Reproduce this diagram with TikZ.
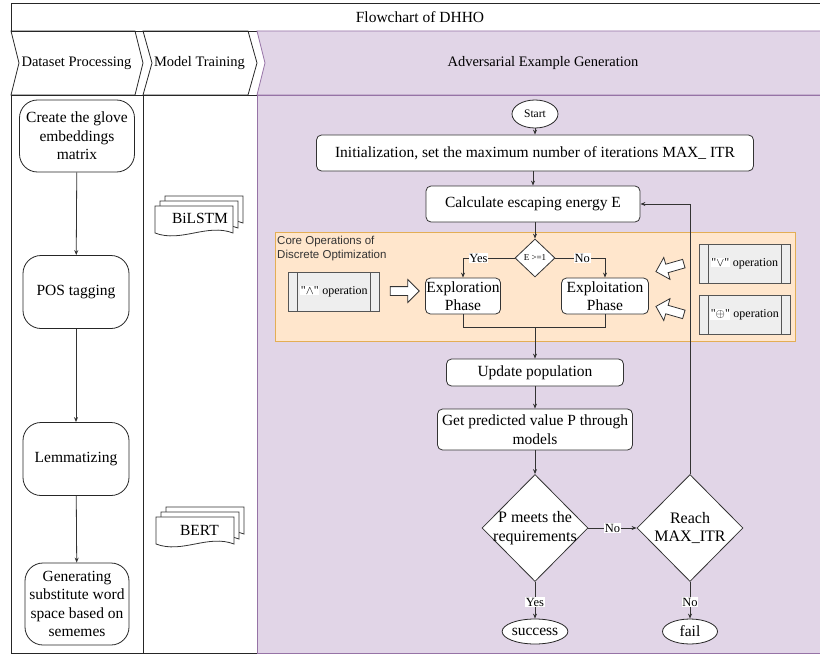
\documentclass[tikz,border=0pt]{standalone}
\usepackage{fontspec}
\setmainfont{Liberation Serif}
\newfontfamily\coresans{Liberation Sans}
\usetikzlibrary{arrows.meta,shapes.geometric,shapes.arrows,calc}
\definecolor{lanepurple}{HTML}{E1D5E7}
\definecolor{lanepurpleline}{HTML}{9673A6}
\definecolor{coreorange}{HTML}{FFE6CC}
\definecolor{coreorangeline}{HTML}{E3AE55}
\definecolor{opgray}{HTML}{EEEEEE}
\definecolor{opgrayline}{HTML}{555555}
\newcommand{\opsym}[1]{{\setlength{\fboxsep}{0.6bp}\colorbox{white}{\textquotedbl$#1$\textquotedbl}}}
\tikzset{
  prepbox/.style={draw=black!85, line width=0.8bp, rounded corners=18bp, fill=white, align=center, inner sep=1bp, font=\fontsize{15.5bp}{18.5bp}\selectfont},
  procnode/.style={draw=black!80, line width=0.8bp, rounded corners=5bp, fill=white, align=center, inner sep=1bp, minimum height=36bp, font=\fontsize{15.5bp}{18.5bp}\selectfont},
  decision/.style={diamond, draw=black!80, line width=0.8bp, fill=white, inner sep=0bp},
  terminal/.style={ellipse, draw=black!85, line width=0.8bp, fill=white, inner sep=0bp},
  opbox/.style={draw=opgrayline, line width=0.8bp, fill=opgray, minimum width=91bp, minimum height=39bp, font=\fontsize{12bp}{14bp}\selectfont,
    path picture={\draw[opgrayline, line width=0.8bp] ([xshift=9bp]path picture bounding box.north west) -- ([xshift=9bp]path picture bounding box.south west)
      ([xshift=-9bp]path picture bounding box.north east) -- ([xshift=-9bp]path picture bounding box.south east);}},
  flow/.style={draw=black!80, line width=0.8bp, -{Stealth[length=5bp,width=4bp]}},
  joinline/.style={draw=black!80, line width=0.8bp},
  branchlabel/.style={fill=white, inner sep=0.8bp, font=\fontsize{12.5bp}{14bp}\selectfont},
  hollowarrow/.style={single arrow, draw=black!80, fill=white, line width=0.8bp, inner sep=4bp, single arrow head extend=7bp, minimum height=29bp},
  lanehead/.style={font=\fontsize{14.5bp}{17bp}\selectfont},
  pics/modeldoc/.style={code={
    \foreach \s in {10,5,0}
      \draw[draw=black!80, fill=white, line width=0.8bp] (\s,-\s) -- ++(78,0) -- ++(0,27) .. controls +(-26,-10) and +(26,10) .. ++(-78,0) -- cycle;
  }}
}
\begin{document}
\begin{tikzpicture}[x=1bp,y=-1bp]
\useasboundingbox (0,0) rectangle (820,660);
% lanes
\fill[white] (0,0) rectangle (820,660);
\draw[black!85, line width=0.8bp] (11,3) rectangle (830,31);
\node[font=\fontsize{15.5bp}{18bp}\selectfont] (title) at (420,17) {Flowchart of DHHO};
\draw[black!85, line width=0.8bp] (11,31) -- (135,31) -- (143,63) -- (135,95) -- (11,95) -- (19,63) -- cycle;
\draw[black!85, line width=0.8bp] (143,31) -- (248,31) -- (257,63) -- (248,95) -- (143,95) -- (152,63) -- cycle;
\draw[lanepurpleline, fill=lanepurple, line width=0.8bp] (257,31) -- (830,31) -- (830,95) -- (257,95) -- (265,63) -- cycle;
\node[lanehead] (dphead) at (76.5,63) {Dataset Processing};
\node[lanehead] (mthead) at (199.5,63) {Model Training};
\node[lanehead] (aehead) at (543,63) {Adversarial Example Generation};
\draw[black!85, line width=0.8bp] (11,95) rectangle (143,653);
\draw[black!85, line width=0.8bp] (143,95) rectangle (257,653);
\draw[lanepurpleline, fill=lanepurple, line width=0.8bp] (257,95) rectangle (830,653);

% dataset processing
\node[prepbox, minimum width=115bp, minimum height=72bp] (glove) at (77,136) {Create the glove\\embeddings\\matrix};
\node[prepbox, minimum width=106bp, minimum height=73bp] (pos) at (76,292) {POS tagging};
\node[prepbox, minimum width=106bp, minimum height=73bp] (lemma) at (76,459) {Lemmatizing};
\node[prepbox, minimum width=104bp, minimum height=82bp] (subst) at (77,604) {Generating\\substitute word\\space based on\\sememes};
\draw[flow] (glove) -- (pos);
\draw[flow] (pos) -- (lemma);
\draw[flow] (lemma) -- (subst);

% model training
\pic (bilstmdoc) at (155,206) {modeldoc};
\node[font=\fontsize{15.5bp}{18bp}\selectfont] (bilstm) at (200,218) {BiLSTM};
\pic (bertdoc) at (156,517) {modeldoc};
\node[font=\fontsize{15.5bp}{18bp}\selectfont] (bert) at (199.5,530) {BERT};

% core operations
\draw[coreorangeline, fill=coreorange, line width=0.9bp] (275,232) rectangle (795,341);
\node[anchor=north west, align=left, inner sep=0bp, font=\coresans\fontsize{11.5bp}{14bp}\selectfont, text=black!80] (coretitle) at (277,236) {Core Operations of\\Discrete Optimization};

\node[terminal, minimum width=46bp, minimum height=28bp, font=\fontsize{11.5bp}{13bp}\selectfont] (start) at (535,114) {Start};
\node[procnode, minimum width=437bp] (init) at (535,153) {Initialization, set the maximum number of iterations MAX\_ ITR};
\node[procnode, minimum width=214bp] (calc) at (533,204) {Calculate escaping energy E};
\node[decision, minimum width=40bp, minimum height=38bp, font=\fontsize{9bp}{10bp}\selectfont] (energy) at (535,258) {E >=1};
\node[procnode, minimum width=75bp] (explore) at (463,296) {Exploration\\Phase};
\node[procnode, minimum width=87bp] (exploit) at (605,296) {Exploitation\\Phase};
\node[opbox] (andop) at (334,291.5) {\opsym{\wedge} operation};
\node[opbox] (orop) at (744.5,263.5) {\opsym{\vee} operation};
\node[opbox] (xorop) at (744.5,315) {\opsym{\oplus} operation};
\node[hollowarrow] (andarrow) at (402.5,291) {};
\node[hollowarrow, rotate=196] (orarrow) at (672,267) {};
\node[hollowarrow, rotate=164] (xorarrow) at (672,311) {};

\node[procnode, minimum width=177bp, minimum height=27bp] (update) at (535,372.5) {Update population};
\node[procnode, minimum width=195bp, minimum height=41bp] (predict) at (535,429.5) {Get predicted value P through\\models};
\node[decision, minimum width=106bp, minimum height=107bp, label={[align=center, font=\fontsize{16bp}{18.5bp}\selectfont]center:P meets the\\requirements}] (meets) at (535,528) {};
\node[decision, minimum width=106bp, minimum height=107bp, label={[align=center, font=\fontsize{16bp}{18.5bp}\selectfont]center:Reach\\MAX\_ITR}] (reach) at (690,528) {};
\node[terminal, minimum width=55bp, minimum height=25bp, font=\fontsize{15.5bp}{18bp}\selectfont] (success) at (535,631.5) {success};
\node[terminal, minimum width=55bp, minimum height=25bp, font=\fontsize{15.5bp}{18bp}\selectfont] (fail) at (690,631.5) {fail};
\coordinate (merge) at (535,327);

\draw[flow] (start) -- (init);
\draw[flow] (init.south -| calc.north) -- (calc.north);
\draw[flow] (calc.south -| energy.north) -- (energy.north);
\draw[flow] (energy.west) -| node[branchlabel, pos=0.35] {Yes} (explore.north);
\draw[flow] (energy.east) -| node[branchlabel, pos=0.27] {No} (exploit.north);
\draw[joinline] (explore.south) |- (merge);
\draw[joinline] (exploit.south) |- (merge);
\draw[flow] (merge) -- (update.north);
\draw[flow] (update) -- (predict);
\draw[flow] (predict) -- (meets);
\draw[flow] (meets) -- node[branchlabel] {No} (reach);
\draw[flow] (meets) -- node[branchlabel, pos=0.55] {Yes} (success);
\draw[flow] (reach) -- node[branchlabel, pos=0.55] {No} (fail);
\draw[flow] (reach.north) |- (calc.east);
\end{tikzpicture}
\end{document}
